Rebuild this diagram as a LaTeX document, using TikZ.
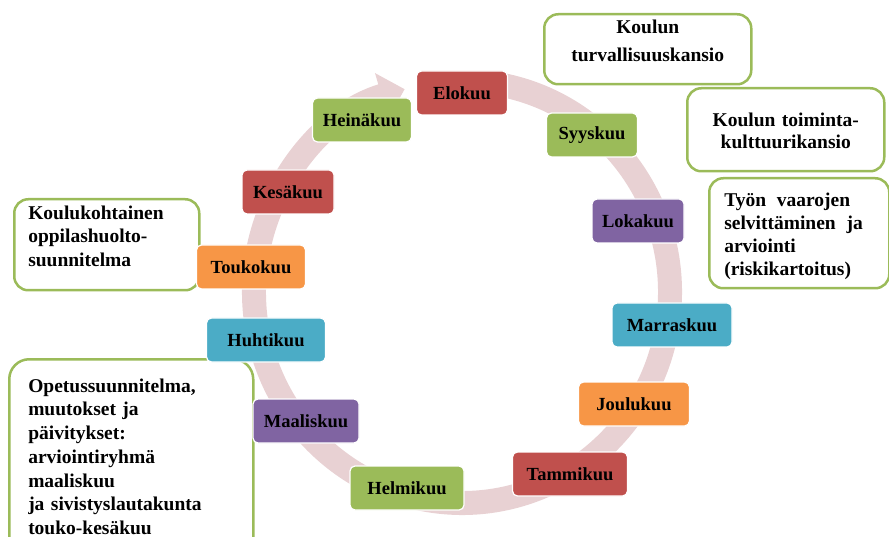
\documentclass[tikz,border=0pt]{standalone}
\usepackage{fontspec}
\setmainfont{Liberation Serif}
\usepackage{xcolor}
\usepackage{tikz}
\usetikzlibrary{arrows.meta}
\definecolor{mred}{RGB}{192,80,77}
\definecolor{mgreen}{RGB}{155,187,89}
\definecolor{mpurple}{RGB}{128,100,162}
\definecolor{maqua}{RGB}{75,172,198}
\definecolor{morange}{RGB}{247,150,70}
\definecolor{ringpink}{RGB}{232,209,211}
\newcommand{\infofont}[1]{\fontsize{19.5}{#1}\selectfont\bfseries}

\begin{document}
\begin{tikzpicture}[x=1pt,y=-1pt]
	\useasboundingbox (0,0) rectangle (889,537);
	\coordinate (ring) at (462,292);
	\draw[ringpink,line width=24pt,-{Triangle[width=46pt,length=24pt]}] (ring) ++(-82:208 and 211) arc[start angle=-82,end angle=254,x radius=208,y radius=211];
	\tikzstyle{infobox}=[draw=mgreen,line width=2.5pt,fill=white,rounded corners=14pt,anchor=north west,inner ysep=0pt]
	\node[infobox,text width=181pt,inner xsep=13pt,align=center,text height=19pt,text depth=51pt,font=\infofont{28}] (turv) at (543,13) {Koulun\\turvallisuuskansio};
	\node[infobox,text width=171pt,inner xsep=13pt,align=center,text height=38pt,text depth=45pt,font=\infofont{22}] (toim) at (686,87) {Koulun toiminta-\\kulttuurikansio};
	\node[infobox,text width=150pt,inner xsep=15pt,align=left,text height=28pt,text depth=82pt,font=\infofont{23}] (tyon) at (708,177) {\spaceskip=.55em Työn vaarojen\\selvittäminen ja\\arviointi\\(riskikartoitus)};
	\node[infobox,text width=157pt,inner xsep=14pt,align=left,text height=20pt,text depth=71pt,font=\infofont{23.5}] (ohs) at (13,198) {Koulukohtainen\\oppilashuolto-\\suunnitelma};
	\node[infobox,rounded corners=20pt,text width=206pt,inner xsep=19pt,align=left,text height=33pt,text depth=180pt,font=\infofont{23.7}] (opet) at (8,358) {Opetussuunnitelma,\\muutokset ja\\päivitykset:\\arviointiryhmä\\maaliskuu\\ja sivistyslautakunta\\touko-kesäkuu};
	\tikzstyle{month}=[draw=white,line width=1.2pt,rounded corners=5pt,minimum height=44pt,inner sep=0pt,font=\fontsize{18.5}{22}\selectfont\bfseries]
	\node[month,fill=mred,minimum width=91pt] (elo) at (462,93) {Elokuu};
	\node[month,fill=mgreen,minimum width=99pt] (hei) at (362,120) {Heinäkuu};
	\node[month,fill=mgreen,minimum width=91pt] (syys) at (592,135) {Syyskuu};
	\node[month,fill=mred,minimum width=92pt] (kesa) at (288,192) {Kesäkuu};
	\node[month,fill=mpurple,minimum width=92pt] (loka) at (638,221) {Lokakuu};
	\node[month,fill=morange,minimum width=109pt] (touko) at (251,267) {Toukokuu};
	\node[month,fill=maqua,minimum width=119pt] (huhti) at (266,340) {Huhtikuu};
	\node[month,fill=maqua,minimum width=120pt] (marras) at (672,325) {Marraskuu};
	\node[month,fill=morange,minimum width=111pt] (joulu) at (634,404) {Joulukuu};
	\node[month,fill=mpurple,minimum width=106pt] (maalis) at (306,421) {Maaliskuu};
	\node[month,fill=mred,minimum width=115pt] (tammi) at (570,474) {Tammikuu};
	\node[month,fill=mgreen,minimum width=114pt] (helmi) at (407,488) {Helmikuu};
\end{tikzpicture}
\end{document}
